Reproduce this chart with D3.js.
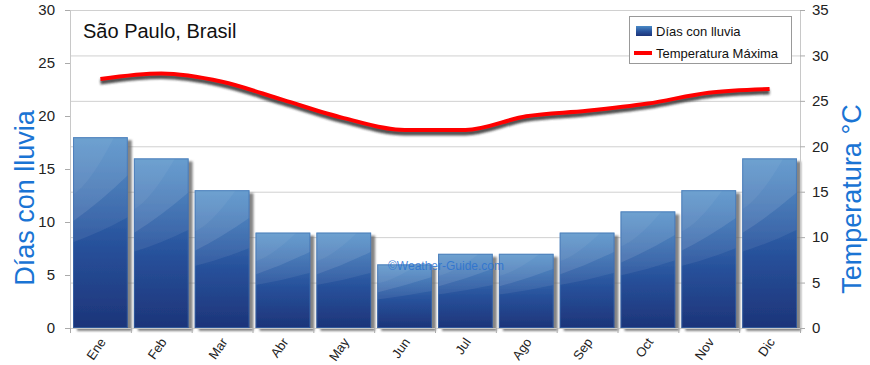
<!DOCTYPE html>
<html>
<head>
<meta charset="utf-8">
<script src="https://cdn.jsdelivr.net/npm/d3@7"></script>
<style>
  body { margin: 0; background: #fff; }
  text { font-family: "Liberation Sans", "DejaVu Sans", sans-serif; }
</style>
</head>
<body>
<div id="chart"></div>
<script>
var months = ["Ene", "Feb", "Mar", "Abr", "May", "Jun", "Jul", "Ago", "Sep", "Oct", "Nov", "Dic"];
var rainDays = [18, 16, 13, 9, 9, 6, 7, 7, 9, 11, 13, 16];
var tempMax = [27.4, 28.0, 27.1, 25.1, 23.1, 21.8, 21.8, 23.3, 23.9, 24.7, 25.9, 26.3];
var leftTicks = [0, 5, 10, 15, 20, 25, 30];
var rightTicks = [0, 5, 10, 15, 20, 25, 30, 35];

var width = 870, height = 365;
var margin = {top: 10, right: 70, bottom: 37, left: 70};
var x0 = margin.left, x1 = width - margin.right,
    y0 = height - margin.bottom, y1 = margin.top;

var svg = d3.select("#chart").append("svg")
    .attr("width", width)
    .attr("height", height);

var defs = svg.append("defs");

var grad = defs.append("linearGradient")
    .attr("id", "barGrad")
    .attr("x1", 0).attr("y1", 1).attr("x2", 0).attr("y2", 0);
grad.append("stop").attr("offset", "0%").attr("stop-color", "#1d3479");
grad.append("stop").attr("offset", "45%").attr("stop-color", "#28529c");
grad.append("stop").attr("offset", "100%").attr("stop-color", "#4a8ac6");

var shadow = defs.append("filter").attr("id", "barShadow")
    .attr("x", "-10%").attr("y", "-10%").attr("width", "130%").attr("height", "130%");
shadow.append("feDropShadow")
    .attr("dx", 4).attr("dy", 3).attr("stdDeviation", 0.8)
    .attr("flood-color", "#666").attr("flood-opacity", 0.8);

var blur = defs.append("filter").attr("id", "lineBlur")
    .attr("x", "-5%").attr("y", "-50%").attr("width", "110%").attr("height", "200%");
blur.append("feGaussianBlur").attr("stdDeviation", 1.3);

var x = d3.scaleBand()
    .domain(months)
    .range([x0, x1])
    .paddingInner(0.1)
    .paddingOuter(0.05);

var yLeft = d3.scaleLinear().domain([0, 30]).range([y0, y1]);
var yRight = d3.scaleLinear().domain([0, 35]).range([y0, y1]);

// grid lines follow the right axis
svg.append("g")
  .selectAll("line")
  .data(rightTicks)
  .enter().append("line")
    .attr("x1", x0).attr("x2", x1)
    .attr("y1", function(d) { return yRight(d) + 0.5; })
    .attr("y2", function(d) { return yRight(d) + 0.5; })
    .attr("stroke", "#d0d0d0");

// bars
var bars = svg.append("g").selectAll(".bar")
    .data(rainDays)
    .enter().append("g")
      .attr("class", "bar");

bars.append("rect")
    .attr("x", function(d, i) { return x(months[i]); })
    .attr("y", function(d) { return yLeft(d); })
    .attr("width", x.bandwidth())
    .attr("height", function(d) { return y0 - yLeft(d); })
    .attr("fill", "url(#barGrad)")
    .attr("filter", "url(#barShadow)");

// light wavy bands on the bars
bars.each(function(d, i) {
  var bx = x(months[i]), bw = x.bandwidth(), top = yLeft(d), h = y0 - top;
  var g = d3.select(this);
  var cid = "clip" + i;
  defs.append("clipPath").attr("id", cid)
    .append("rect").attr("x", bx).attr("y", top).attr("width", bw).attr("height", h);
  var band1 = y0 - h * 0.5, band2 = y0 - h * 0.68;
  g.append("path")
      .attr("clip-path", "url(#" + cid + ")")
      .attr("d", "M" + bx + "," + top + "L" + (bx + bw) + "," + top +
                 "L" + (bx + bw) + "," + (band2 - h * 0.12) +
                 "Q" + (bx + bw * 0.5) + "," + (band2 + h * 0.02) + " " + bx + "," + (band2 + h * 0.12) + "Z")
      .attr("fill", "#fff").attr("opacity", 0.1);
  g.append("path")
      .attr("clip-path", "url(#" + cid + ")")
      .attr("d", "M" + bx + "," + top + "L" + (bx + bw) + "," + top +
                 "L" + (bx + bw) + "," + (band1 - h * 0.08) +
                 "Q" + (bx + bw * 0.5) + "," + (band1) + " " + bx + "," + (band1 + h * 0.05) + "Z")
      .attr("fill", "#fff").attr("opacity", 0.07);
  g.append("path")
      .attr("clip-path", "url(#" + cid + ")")
      .attr("d", "M" + bx + "," + top + "L" + (bx + bw * 0.75) + "," + top +
                 "Q" + (bx + bw * 0.3) + "," + (top + h * 0.25) + " " + bx + "," + (top + h * 0.3) + "Z")
      .attr("fill", "#fff").attr("opacity", 0.05);
  g.append("rect")
      .attr("x", bx + 0.5).attr("y", top + 0.5)
      .attr("width", bw - 1).attr("height", h - 1)
      .attr("fill", "none").attr("stroke", "#3d6fb0").attr("stroke-opacity", 0.6);
});

// axes lines
svg.append("line").attr("x1", x0 + 0.5).attr("x2", x0 + 0.5).attr("y1", y1).attr("y2", y0)
    .attr("stroke", "#c8c8c8");
svg.append("line").attr("x1", x1 + 0.5).attr("x2", x1 + 0.5).attr("y1", y1).attr("y2", y0)
    .attr("stroke", "#c8c8c8");
svg.append("line").attr("x1", x0).attr("x2", x1).attr("y1", y0 + 0.5).attr("y2", y0 + 0.5)
    .attr("stroke", "#c8c8c8");

// left axis
var gl = svg.append("g").selectAll("g")
    .data(leftTicks).enter().append("g");
gl.append("line")
    .attr("x1", x0 - 5).attr("x2", x0)
    .attr("y1", function(d) { return yLeft(d) + 0.5; })
    .attr("y2", function(d) { return yLeft(d) + 0.5; })
    .attr("stroke", "#aaa");
gl.append("text")
    .attr("x", x0 - 15)
    .attr("y", function(d) { return yLeft(d); })
    .attr("dy", "0.35em")
    .attr("text-anchor", "end")
    .attr("font-size", 15)
    .attr("fill", "#222")
    .text(function(d) { return d; });

// right axis
var gr = svg.append("g").selectAll("g")
    .data(rightTicks).enter().append("g");
gr.append("line")
    .attr("x1", x1).attr("x2", x1 + 5)
    .attr("y1", function(d) { return yRight(d) + 0.5; })
    .attr("y2", function(d) { return yRight(d) + 0.5; })
    .attr("stroke", "#aaa");
gr.append("text")
    .attr("x", x1 + 12)
    .attr("y", function(d) { return yRight(d); })
    .attr("dy", "0.35em")
    .attr("text-anchor", "start")
    .attr("font-size", 15)
    .attr("fill", "#222")
    .text(function(d) { return d; });

// bottom ticks at band boundaries
var step = (x1 - x0) / months.length;
svg.append("g").selectAll("line")
    .data(d3.range(months.length + 1))
    .enter().append("line")
      .attr("x1", function(d) { return x0 + d * step + 0.5; })
      .attr("x2", function(d) { return x0 + d * step + 0.5; })
      .attr("y1", y0).attr("y2", y0 + 5)
      .attr("stroke", "#aaa");

svg.append("g").selectAll("text")
    .data(months)
    .enter().append("text")
      .attr("transform", function(d) {
        return "translate(" + (x(d) + x.bandwidth() / 2 + 6) + "," + (y0 + 14) + ")rotate(-55)";
      })
      .attr("text-anchor", "end")
      .attr("font-size", 13)
      .attr("fill", "#222")
      .text(function(d) { return d; });

// temperature line
var line = d3.line()
    .curve(d3.curveMonotoneX)
    .x(function(d, i) { return x(months[i]) + x.bandwidth() / 2; })
    .y(function(d) { return yRight(d); });

svg.append("path")
    .datum(tempMax)
    .attr("d", line)
    .attr("transform", "translate(0,3)")
    .attr("fill", "none")
    .attr("stroke", "#333")
    .attr("stroke-opacity", 0.85)
    .attr("stroke-width", 5)
    .attr("filter", "url(#lineBlur)");

svg.append("path")
    .datum(tempMax)
    .attr("d", line)
    .attr("fill", "none")
    .attr("stroke", "#ff0000")
    .attr("stroke-width", 4);

// watermark
svg.append("text")
    .attr("x", 446).attr("y", 270)
    .attr("text-anchor", "middle")
    .attr("font-size", 12)
    .attr("fill", "#2a72d0")
    .attr("fill-opacity", 0.85)
    .text("©Weather-Guide.com");

// title
svg.append("text")
    .attr("x", 83).attr("y", 38)
    .attr("font-size", 20)
    .attr("fill", "#111")
    .text("São Paulo, Brasil");

// axis titles
svg.append("text")
    .attr("transform", "translate(34,198)rotate(-90)")
    .attr("text-anchor", "middle")
    .attr("font-size", 27)
    .attr("fill", "#1a74d4")
    .text("Días con lluvia");

svg.append("text")
    .attr("transform", "translate(861,199)rotate(-90)")
    .attr("text-anchor", "middle")
    .attr("font-size", 27)
    .attr("fill", "#1a74d4")
    .text("Temperatura °C");

// legend
var legend = svg.append("g").attr("transform", "translate(629,16)");
legend.append("rect")
    .attr("x", 0.5).attr("y", 0.5)
    .attr("width", 162).attr("height", 47)
    .attr("fill", "#fff")
    .attr("stroke", "#999");
legend.append("rect")
    .attr("x", 7).attr("y", 10)
    .attr("width", 16).attr("height", 10)
    .attr("fill", "url(#barGrad)");
legend.append("text")
    .attr("x", 27).attr("y", 15)
    .attr("dy", "0.35em")
    .attr("font-size", 13)
    .attr("fill", "#111")
    .text("Días con lluvia");
legend.append("line")
    .attr("x1", 5).attr("x2", 23)
    .attr("y1", 37).attr("y2", 37)
    .attr("stroke", "#ff0000")
    .attr("stroke-width", 4);
legend.append("text")
    .attr("x", 27).attr("y", 37)
    .attr("dy", "0.35em")
    .attr("font-size", 13)
    .attr("fill", "#111")
    .text("Temperatura Máxima");
</script>
</body>
</html>
